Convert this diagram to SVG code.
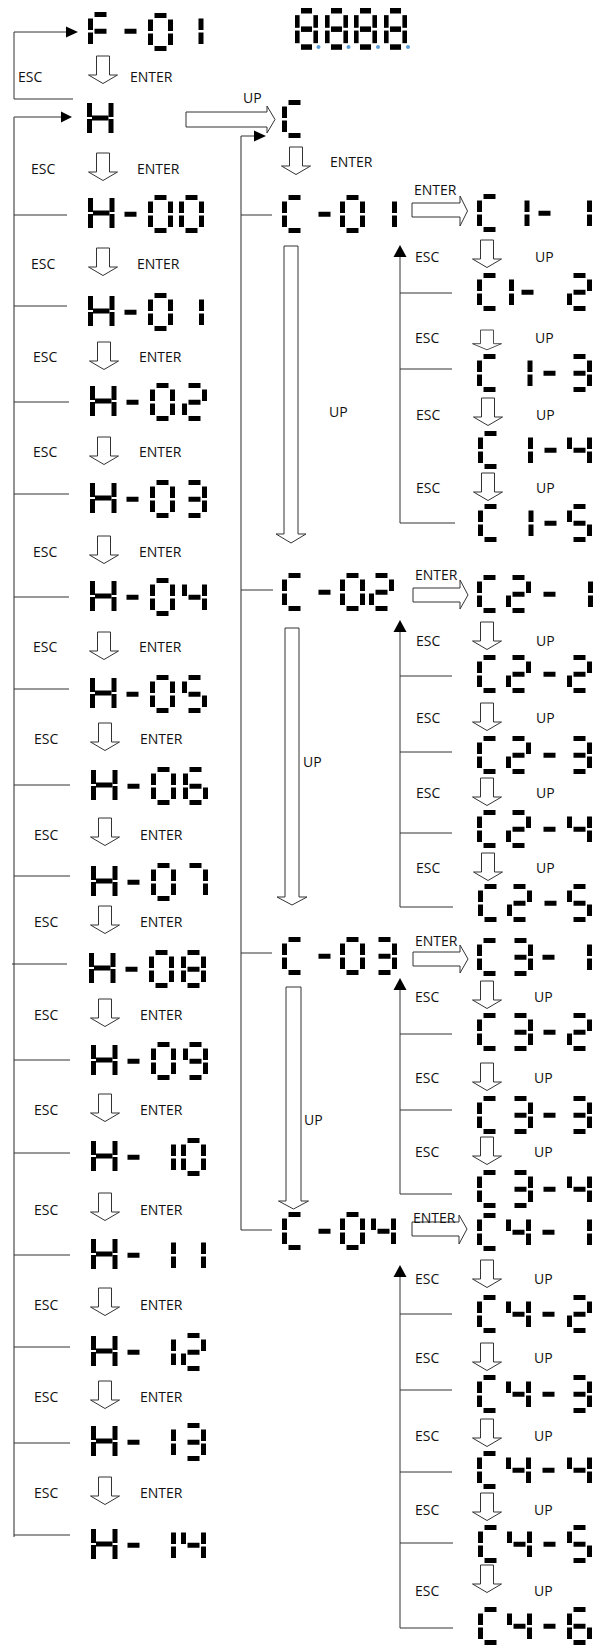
<svg xmlns="http://www.w3.org/2000/svg" width="595" height="1648" viewBox="0 0 595 1648">
<style>
.t{font-family:"Open Sans","Liberation Sans",sans-serif;font-size:14px;fill:#111}
.ln{stroke:#333;stroke-width:1;fill:none}
.vl{stroke:#666;stroke-width:1.4;fill:none}
.ah{fill:#000}
.ha{fill:#fff;stroke:#333;stroke-width:1}
.sg{fill:#000}
.dot{fill:#5b9bd5}
</style>
<defs>
<rect id="sa" class="sg" x="6.5" y="0" width="12" height="5"/>
<rect id="sb" class="sg" x="20" y="6.5" width="5" height="11.5"/>
<rect id="sc" class="sg" x="20" y="20.5" width="5" height="11.5"/>
<rect id="sd" class="sg" x="6.5" y="33" width="12" height="5"/>
<rect id="se" class="sg" x="0" y="20.5" width="5" height="11.5"/>
<rect id="sf" class="sg" x="0" y="6.5" width="5" height="11.5"/>
<rect id="sm" class="sg" x="6.5" y="16.75" width="12" height="5"/>
<g id="d0"><use href="#sa"/><use href="#sb"/><use href="#sc"/><use href="#sd"/><use href="#se"/><use href="#sf"/></g>
<g id="d1"><use href="#sb"/><use href="#sc"/></g>
<g id="d2"><use href="#sa"/><use href="#sb"/><use href="#sm"/><use href="#se"/><use href="#sd"/></g>
<g id="d3"><use href="#sa"/><use href="#sb"/><use href="#sm"/><use href="#sc"/><use href="#sd"/></g>
<g id="d4"><use href="#sf"/><use href="#sm"/><use href="#sb"/><use href="#sc"/></g>
<g id="d5"><use href="#sa"/><use href="#sf"/><use href="#sm"/><use href="#sc"/><use href="#sd"/></g>
<g id="d6"><use href="#sa"/><use href="#sf"/><use href="#sm"/><use href="#se"/><use href="#sd"/><use href="#sc"/></g>
<g id="d7"><use href="#sa"/><use href="#sb"/><use href="#sc"/></g>
<g id="d8"><use href="#sa"/><use href="#sb"/><use href="#sc"/><use href="#sd"/><use href="#se"/><use href="#sf"/><use href="#sm"/></g>
<g id="d9"><use href="#sa"/><use href="#sb"/><use href="#sc"/><use href="#sd"/><use href="#sf"/><use href="#sm"/></g>
<g id="dF"><use href="#sa"/><use href="#sf"/><use href="#sm"/><use href="#se"/></g>
<g id="dC"><use href="#sa"/><use href="#sf"/><use href="#se"/><use href="#sd"/></g>
<g id="dM"><use href="#sm"/></g>
<g id="dH"><rect class="sg" x="0" y="3" width="5" height="14"/><rect class="sg" x="0" y="19" width="5" height="14"/><rect class="sg" x="21.5" y="3" width="5" height="14"/><rect class="sg" x="21.5" y="19" width="5" height="14"/><rect class="sg" x="5" y="15.5" width="16.5" height="5"/></g>
<path id="dn" class="ha" d="M-6.5,0 H6.5 V19 H14.5 L0,27.5 L-14.5,19 H-6.5 Z"/>
</defs>
<rect width="595" height="1648" fill="#fff"/>

<g id="connectors">
  <polyline class="ln" points="73,99 14,99 14,32 67,32"/>
  <polygon class="ah" points="66,26.5 78,32 66,37.5"/>
  <line class="ln" x1="14" y1="117" x2="62" y2="117"/>
  <polygon class="ah" points="61,111.5 72,117 61,122.5"/>
  <line class="vl" x1="14" y1="117" x2="14" y2="1537"/>
  <g class="ln">
    <line x1="14" y1="215" x2="67" y2="215"/><line x1="14" y1="306" x2="67" y2="306"/>
    <line x1="14" y1="402" x2="69" y2="402"/><line x1="14" y1="494" x2="69" y2="494"/>
    <line x1="14" y1="597" x2="69" y2="597"/><line x1="14" y1="689" x2="69" y2="689"/>
    <line x1="14" y1="785" x2="70" y2="785"/><line x1="14" y1="876" x2="70" y2="876"/>
    <line x1="12" y1="964" x2="67" y2="964"/><line x1="14" y1="1060" x2="70" y2="1060"/>
    <line x1="14" y1="1153" x2="70" y2="1153"/><line x1="14" y1="1255" x2="70" y2="1255"/>
    <line x1="14" y1="1347" x2="70" y2="1347"/><line x1="14" y1="1443" x2="70" y2="1443"/>
    <line x1="14" y1="1535" x2="70" y2="1535"/>
  </g>
  <line class="vl" x1="241" y1="136" x2="241" y2="1230"/>
  <line class="ln" x1="241" y1="136" x2="255" y2="136"/>
  <polygon class="ah" points="254,130.5 266,136 254,141.5"/>
  <g class="ln">
    <line x1="241" y1="215" x2="272" y2="215"/><line x1="241" y1="590" x2="273" y2="590"/>
    <line x1="241" y1="953" x2="272" y2="953"/><line x1="241" y1="1230" x2="272" y2="1230"/>
  </g>
  <g class="ln">
    <line x1="400" y1="256" x2="400" y2="523"/>
    <line x1="400" y1="293" x2="452" y2="293"/><line x1="400" y1="369" x2="452" y2="369"/><line x1="400" y1="523" x2="455" y2="523"/>
    <line x1="400" y1="631" x2="400" y2="907"/>
    <line x1="400" y1="676" x2="452" y2="676"/><line x1="400" y1="752" x2="452" y2="752"/><line x1="400" y1="833" x2="452" y2="833"/><line x1="400" y1="907" x2="453" y2="907"/>
    <line x1="400" y1="989" x2="400" y2="1194"/>
    <line x1="400" y1="1034" x2="452" y2="1034"/><line x1="400" y1="1110" x2="452" y2="1110"/><line x1="400" y1="1194" x2="452" y2="1194"/>
    <line x1="400" y1="1276" x2="400" y2="1628"/>
    <line x1="400" y1="1314" x2="452" y2="1314"/><line x1="400" y1="1390" x2="452" y2="1390"/><line x1="400" y1="1472" x2="452" y2="1472"/><line x1="400" y1="1543" x2="453" y2="1543"/><line x1="400" y1="1628" x2="453" y2="1628"/>
  </g>
  <polygon class="ah" points="393.5,257 400,245 406.5,257"/>
  <polygon class="ah" points="393.5,632 400,620 406.5,632"/>
  <polygon class="ah" points="393.5,990 400,978 406.5,990"/>
  <polygon class="ah" points="393.5,1277 400,1265 406.5,1277"/>

  <use href="#dn" x="103" y="56"/>
  <use href="#dn" x="103" y="153"/><use href="#dn" x="103" y="248"/><use href="#dn" x="104" y="342"/>
  <use href="#dn" x="104" y="437"/><use href="#dn" x="104" y="536"/><use href="#dn" x="104" y="632"/>
  <use href="#dn" x="105" y="723"/><use href="#dn" x="105" y="818"/><use href="#dn" x="105" y="906"/>
  <use href="#dn" x="105" y="999"/><use href="#dn" x="105" y="1094"/><use href="#dn" x="105" y="1193"/>
  <use href="#dn" x="105" y="1288"/><use href="#dn" x="105" y="1381"/><use href="#dn" x="105" y="1477"/>
  <use href="#dn" x="296" y="147"/>
  <use href="#dn" x="487" y="240"/>
  <use href="#dn" transform="translate(487,330) scale(1,0.72)"/>
  <use href="#dn" x="488" y="398"/><use href="#dn" x="488" y="473"/>
  <use href="#dn" x="487" y="622"/><use href="#dn" x="487" y="703"/><use href="#dn" x="487" y="778"/><use href="#dn" x="488" y="853"/>
  <use href="#dn" x="487" y="981"/><use href="#dn" x="487" y="1063"/><use href="#dn" x="487" y="1137"/>
  <use href="#dn" x="487" y="1260"/><use href="#dn" x="487" y="1343"/><use href="#dn" x="487" y="1419"/><use href="#dn" x="487" y="1493"/><use href="#dn" x="487" y="1565"/>
  <path class="ha" d="M186,112 H267 V106 L275,119.5 L267,133 V127 H186 Z"/>
  <path class="ha" d="M284,246 H298 V534 H306 L291,543 L276,534 H284 Z"/>
  <path class="ha" d="M285,628 H299 V897 H307 L292,905 L277,897 H285 Z"/>
  <path class="ha" d="M286,987 H301 V1201 H308.5 L293.5,1209 L278.5,1201 H286 Z"/>
  <path class="ha" d="M412,203 H460 V196 L467.5,211 L460,226 V217 H412 Z"/>
  <path class="ha" d="M413,588 H460 V580 L468,595 L460,609 V602 H413 Z"/>
  <path class="ha" d="M413,952 H460 V945 L468,959 L460,973 V966 H413 Z"/>
  <path class="ha" d="M412,1222 H459 V1215 L467,1229 L459,1244 V1236 H412 Z"/>
</g>

<g id="labels">
  <text class="t" x="18" y="82">ESC</text><text class="t" x="130" y="82">ENTER</text>
  <text class="t" x="243" y="103">UP</text>
  <text class="t" x="330" y="167">ENTER</text>
  <g>
    <text class="t" x="31" y="174">ESC</text><text class="t" x="137" y="174">ENTER</text>
    <text class="t" x="31" y="269">ESC</text><text class="t" x="137" y="269">ENTER</text>
    <text class="t" x="33" y="362">ESC</text><text class="t" x="139" y="362">ENTER</text>
    <text class="t" x="33" y="457">ESC</text><text class="t" x="139" y="457">ENTER</text>
    <text class="t" x="33" y="557">ESC</text><text class="t" x="139" y="557">ENTER</text>
    <text class="t" x="33" y="652">ESC</text><text class="t" x="139" y="652">ENTER</text>
    <text class="t" x="34" y="744">ESC</text><text class="t" x="140" y="744">ENTER</text>
    <text class="t" x="34" y="840">ESC</text><text class="t" x="140" y="840">ENTER</text>
    <text class="t" x="34" y="927">ESC</text><text class="t" x="140" y="927">ENTER</text>
    <text class="t" x="34" y="1020">ESC</text><text class="t" x="140" y="1020">ENTER</text>
    <text class="t" x="34" y="1115">ESC</text><text class="t" x="140" y="1115">ENTER</text>
    <text class="t" x="34" y="1215">ESC</text><text class="t" x="140" y="1215">ENTER</text>
    <text class="t" x="34" y="1310">ESC</text><text class="t" x="140" y="1310">ENTER</text>
    <text class="t" x="34" y="1402">ESC</text><text class="t" x="140" y="1402">ENTER</text>
    <text class="t" x="34" y="1498">ESC</text><text class="t" x="140" y="1498">ENTER</text>
  </g>
  <text class="t" x="329" y="417">UP</text>
  <text class="t" x="303" y="767">UP</text>
  <text class="t" x="304" y="1125">UP</text>
  <text class="t" x="414" y="195">ENTER</text>
  <text class="t" x="415" y="580">ENTER</text>
  <text class="t" x="415" y="946">ENTER</text>
  <text class="t" x="413" y="1223">ENTER</text>
  <g>
    <text class="t" x="415" y="262">ESC</text><text class="t" x="535" y="262">UP</text>
    <text class="t" x="415" y="343">ESC</text><text class="t" x="535" y="343">UP</text>
    <text class="t" x="416" y="420">ESC</text><text class="t" x="536" y="420">UP</text>
    <text class="t" x="416" y="493">ESC</text><text class="t" x="536" y="493">UP</text>
    <text class="t" x="416" y="646">ESC</text><text class="t" x="536" y="646">UP</text>
    <text class="t" x="416" y="723">ESC</text><text class="t" x="536" y="723">UP</text>
    <text class="t" x="416" y="798">ESC</text><text class="t" x="536" y="798">UP</text>
    <text class="t" x="416" y="873">ESC</text><text class="t" x="536" y="873">UP</text>
    <text class="t" x="415" y="1002">ESC</text><text class="t" x="534" y="1002">UP</text>
    <text class="t" x="415" y="1083">ESC</text><text class="t" x="534" y="1083">UP</text>
    <text class="t" x="415" y="1157">ESC</text><text class="t" x="534" y="1157">UP</text>
    <text class="t" x="415" y="1284">ESC</text><text class="t" x="534" y="1284">UP</text>
    <text class="t" x="415" y="1363">ESC</text><text class="t" x="534" y="1363">UP</text>
    <text class="t" x="415" y="1441">ESC</text><text class="t" x="534" y="1441">UP</text>
    <text class="t" x="415" y="1515">ESC</text><text class="t" x="534" y="1515">UP</text>
    <text class="t" x="415" y="1596">ESC</text><text class="t" x="534" y="1596">UP</text>
  </g>
</g>

<g id="n-F-01"><use href="#dF" x="88" y="12"/><use href="#dM" x="118" y="12"/><use href="#d0" x="148" y="13"/><use href="#d1" x="178.5" y="12"/></g>
<g id="n-8888">
  <use href="#d8" transform="translate(295,8) scale(0.92,1.1)"/><use href="#d8" transform="translate(325,8) scale(0.92,1.1)"/>
  <use href="#d8" transform="translate(354,8) scale(0.92,1.1)"/><use href="#d8" transform="translate(384,8) scale(0.92,1.1)"/>
  <circle class="dot" cx="318.5" cy="47" r="2"/><circle class="dot" cx="348.5" cy="47" r="2"/><circle class="dot" cx="378" cy="47" r="2"/><circle class="dot" cx="408" cy="47" r="2"/>
</g>
<g id="n-H"><use href="#dH" x="87" y="100"/></g>
<g id="n-H-00"><use href="#dH" x="88" y="195"/><use href="#dM" x="118" y="195"/><use href="#d0" x="148" y="195"/><use href="#d0" x="179" y="195"/></g>
<g id="n-H-01"><use href="#dH" x="88" y="293"/><use href="#dM" x="118" y="293"/><use href="#d0" x="148" y="293"/><use href="#d1" x="179" y="293"/></g>
<g id="n-H-02"><use href="#dH" x="90" y="383"/><use href="#dM" x="120" y="383"/><use href="#d0" x="150" y="383"/><use href="#d2" x="182" y="383"/></g>
<g id="n-H-03"><use href="#dH" x="90" y="480"/><use href="#dM" x="120" y="480"/><use href="#d0" x="150" y="480"/><use href="#d3" x="182" y="480"/></g>
<g id="n-H-04"><use href="#dH" x="90" y="578"/><use href="#dM" x="120" y="578"/><use href="#d0" x="150" y="578"/><use href="#d4" x="182" y="578"/></g>
<g id="n-H-05"><use href="#dH" x="90" y="675"/><use href="#dM" x="120" y="675"/><use href="#d0" x="150" y="675"/><use href="#d5" x="182" y="675"/></g>
<g id="n-H-06"><use href="#dH" x="91" y="767"/><use href="#dM" x="121" y="767"/><use href="#d0" x="151" y="767"/><use href="#d6" x="183" y="767"/></g>
<g id="n-H-07"><use href="#dH" x="91" y="863"/><use href="#dM" x="121" y="863"/><use href="#d0" x="151" y="863"/><use href="#d7" x="183" y="863"/></g>
<g id="n-H-08"><use href="#dH" x="89" y="950"/><use href="#dM" x="119" y="950"/><use href="#d0" x="149" y="950"/><use href="#d8" x="181" y="950"/></g>
<g id="n-H-09"><use href="#dH" x="91" y="1042"/><use href="#dM" x="121" y="1042"/><use href="#d0" x="151" y="1042"/><use href="#d9" x="183" y="1042"/></g>
<g id="n-H-10"><use href="#dH" x="91" y="1138"/><use href="#dM" x="121" y="1138"/><use href="#d1" x="151" y="1138"/><use href="#d0" x="181" y="1138"/></g>
<g id="n-H-11"><use href="#dH" x="91" y="1236"/><use href="#dM" x="121" y="1236"/><use href="#d1" x="151" y="1236"/><use href="#d1" x="181" y="1236"/></g>
<g id="n-H-12"><use href="#dH" x="91" y="1333"/><use href="#dM" x="121" y="1333"/><use href="#d1" x="151" y="1333"/><use href="#d2" x="181" y="1333"/></g>
<g id="n-H-13"><use href="#dH" x="91" y="1423"/><use href="#dM" x="121" y="1423"/><use href="#d1" x="151" y="1423"/><use href="#d3" x="181" y="1423"/></g>
<g id="n-H-14"><use href="#dH" x="91" y="1526"/><use href="#dM" x="121" y="1526"/><use href="#d1" x="151" y="1526"/><use href="#d4" x="181" y="1526"/></g>

<g id="n-C"><use href="#dC" x="282" y="100"/></g>
<g id="n-C-01"><use href="#dC" x="282" y="195"/><use href="#dM" x="312" y="195"/><use href="#d0" x="340" y="195"/><use href="#d1" x="372" y="195"/></g>
<g id="n-C-02"><use href="#dC" x="282" y="573"/><use href="#dM" x="312" y="573"/><use href="#d0" x="340" y="573"/><use href="#d2" x="369" y="573"/></g>
<g id="n-C-03"><use href="#dC" x="282" y="937"/><use href="#dM" x="312" y="937"/><use href="#d0" x="340" y="937"/><use href="#d3" x="372" y="937"/></g>
<g id="n-C-04"><use href="#dC" x="282" y="1212"/><use href="#dM" x="312" y="1212"/><use href="#d0" x="340" y="1212"/><use href="#d4" x="371" y="1212"/></g>

<g id="n-C1-1"><use href="#dC" x="477" y="194"/><use href="#d1" x="504.5" y="194"/><use href="#dM" x="532" y="194"/><use href="#d1" x="567" y="194"/></g>
<g id="n-C1-2"><use href="#dC" x="477" y="273"/><use href="#d1" x="489" y="273"/><use href="#dM" x="515" y="273"/><use href="#d2" x="567" y="273"/></g>
<g id="n-C1-3"><use href="#dC" x="477" y="354"/><use href="#d1" x="507.5" y="354"/><use href="#dM" x="537" y="354"/><use href="#d3" x="567" y="354"/></g>
<g id="n-C1-4"><use href="#dC" x="478" y="431"/><use href="#d1" x="508" y="431"/><use href="#dM" x="538" y="431"/><use href="#d4" x="567" y="431"/></g>
<g id="n-C1-5"><use href="#dC" x="478" y="504"/><use href="#d1" x="508.5" y="504"/><use href="#dM" x="538" y="504"/><use href="#d5" x="567" y="504"/></g>

<g id="n-C2-1"><use href="#dC" x="477" y="575"/><use href="#d2" x="506" y="575"/><use href="#dM" x="537" y="575"/><use href="#d1" x="568" y="575"/></g>
<g id="n-C2-2"><use href="#dC" x="477" y="655"/><use href="#d2" x="506" y="655"/><use href="#dM" x="537" y="655"/><use href="#d2" x="567" y="655"/></g>
<g id="n-C2-3"><use href="#dC" x="477" y="736"/><use href="#d2" x="506" y="736"/><use href="#dM" x="537" y="736"/><use href="#d3" x="567" y="736"/></g>
<g id="n-C2-4"><use href="#dC" x="477" y="810"/><use href="#d2" x="506" y="810"/><use href="#dM" x="537" y="810"/><use href="#d4" x="567" y="810"/></g>
<g id="n-C2-5"><use href="#dC" x="478" y="884"/><use href="#d2" x="507" y="884"/><use href="#dM" x="538" y="884"/><use href="#d5" x="567" y="884"/></g>

<g id="n-C3-1"><use href="#dC" x="477" y="938"/><use href="#d3" x="508" y="938"/><use href="#dM" x="536" y="938"/><use href="#d1" x="567" y="938"/></g>
<g id="n-C3-2"><use href="#dC" x="477" y="1013"/><use href="#d3" x="508" y="1013"/><use href="#dM" x="537" y="1013"/><use href="#d2" x="567" y="1013"/></g>
<g id="n-C3-3"><use href="#dC" x="477" y="1096"/><use href="#d3" x="508" y="1096"/><use href="#dM" x="537" y="1096"/><use href="#d3" x="567" y="1096"/></g>
<g id="n-C3-4"><use href="#dC" x="477" y="1170"/><use href="#d3" x="508" y="1170"/><use href="#dM" x="537" y="1170"/><use href="#d4" x="567" y="1170"/></g>

<g id="n-C4-1"><use href="#dC" x="477" y="1213"/><use href="#d4" x="506" y="1213"/><use href="#dM" x="536" y="1213"/><use href="#d1" x="567" y="1213"/></g>
<g id="n-C4-2"><use href="#dC" x="477" y="1295"/><use href="#d4" x="506" y="1295"/><use href="#dM" x="536" y="1295"/><use href="#d2" x="567" y="1295"/></g>
<g id="n-C4-3"><use href="#dC" x="477" y="1375"/><use href="#d4" x="506" y="1375"/><use href="#dM" x="536" y="1375"/><use href="#d3" x="567" y="1375"/></g>
<g id="n-C4-4"><use href="#dC" x="477" y="1451"/><use href="#d4" x="506" y="1451"/><use href="#dM" x="536" y="1451"/><use href="#d4" x="567" y="1451"/></g>
<g id="n-C4-5"><use href="#dC" x="478" y="1525"/><use href="#d4" x="507" y="1525"/><use href="#dM" x="537" y="1525"/><use href="#d5" x="567" y="1525"/></g>
<g id="n-C4-6"><use href="#dC" x="478" y="1607"/><use href="#d4" x="507" y="1607"/><use href="#dM" x="537" y="1607"/><use href="#d6" x="567" y="1607"/></g>
</svg>
